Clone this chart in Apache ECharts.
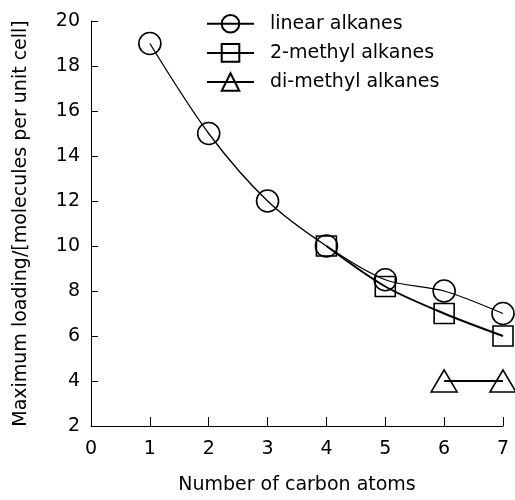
<!DOCTYPE html>
<html>
<head>
<meta charset="utf-8">
<script src="https://cdn.jsdelivr.net/npm/echarts@6/dist/echarts.min.js"></script>
<style>html,body{margin:0;padding:0;background:#fff;}#c{width:515px;height:500px;}</style>
</head>
<body>
<div id="c"></div>
<script>
const linearX = [1, 2, 3, 4, 5, 6, 7];
const linearY = [19, 15, 12, 10, 8.5, 8, 7];
const methylX = [4, 5, 6, 7];
const methylY = [10, 8.2, 7, 6];
const dimethylX = [6, 7];
const dimethylY = [4, 4];
const seriesNames = ['linear alkanes', '2-methyl alkanes', 'di-methyl alkanes'];
const xTitle = 'Number of carbon atoms';
const yTitle = 'Maximum loading/[molecules per unit cell]';

const pair = (xs, ys) => xs.map((x, i) => [x, ys[i]]);
const font = '"DejaVu Sans", sans-serif';
const fs = 19;

const chart = echarts.init(document.getElementById('c'), null, {renderer: 'canvas'});
chart.setOption({
  animation: false,
  backgroundColor: '#fff',
  grid: {left: 91, right: 12, top: 21, bottom: 68, containLabel: false},
  legend: {
    orient: 'vertical', left: 206, top: 14, padding: 0,
    itemWidth: 47, itemHeight: 22, itemGap: 9.5,
    textStyle: {color: '#000', fontSize: fs, fontFamily: font, padding: [0, 0, 0, 11]},
    data: seriesNames
  },
  xAxis: {
    type: 'value', min: 0, max: 7, interval: 1,
    name: xTitle, nameLocation: 'middle', nameGap: 50,
    nameTextStyle: {color: '#000', fontSize: fs, fontFamily: font},
    axisLine: {show: true, lineStyle: {color: '#000', width: 1}},
    axisTick: {show: true, inside: true, length: 9, lineStyle: {color: '#000'}},
    axisLabel: {color: '#000', fontSize: fs, fontFamily: font, margin: 14},
    splitLine: {show: false}
  },
  yAxis: {
    type: 'value', min: 2, max: 20, interval: 2,
    name: yTitle, nameLocation: 'middle', nameGap: 60, nameRotate: 90,
    nameTextStyle: {color: '#000', fontSize: fs, fontFamily: font},
    axisLine: {show: true, lineStyle: {color: '#000', width: 1}},
    axisTick: {show: true, inside: true, length: 7, lineStyle: {color: '#000'}},
    axisLabel: {color: '#000', fontSize: fs, fontFamily: font, margin: 11},
    splitLine: {show: false}
  },
  series: [
    {
      name: seriesNames[0], type: 'line', data: pair(linearX, linearY),
      smooth: 0.3, symbol: 'circle', symbolSize: 22,
      lineStyle: {color: '#000', width: 1.3},
      itemStyle: {color: 'rgba(0,0,0,0)', borderColor: '#000', borderWidth: 1.6}
    },
    {
      name: seriesNames[1], type: 'line', data: pair(methylX, methylY),
      smooth: 0.3, symbol: 'rect', symbolSize: 20,
      lineStyle: {color: '#000', width: 2},
      itemStyle: {color: 'rgba(0,0,0,0)', borderColor: '#000', borderWidth: 1.6}
    },
    {
      name: seriesNames[2], type: 'line', data: pair(dimethylX, dimethylY),
      symbol: 'triangle', symbolSize: [26, 22],
      lineStyle: {color: '#000', width: 2},
      itemStyle: {color: 'rgba(0,0,0,0)', borderColor: '#000', borderWidth: 1.6}
    }
  ]
});
</script>
</body>
</html>
